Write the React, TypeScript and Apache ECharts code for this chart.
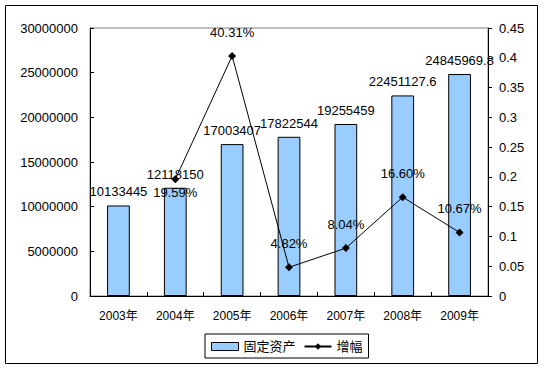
import React, { useEffect, useRef } from "react";
import * as echarts from "echarts";

const categories = ["2003年", "2004年", "2005年", "2006年", "2007年", "2008年", "2009年"];
const assetValues = [10133445, 12118150, 17003407, 17822544, 19255459, 22451127.6, 24845969.8];
const growthValues: (number | null)[] = [null, 0.1959, 0.4031, 0.0482, 0.0804, 0.166, 0.1067];
const growthLabels = ["", "19.59%", "40.31%", "4.82%", "8.04%", "16.60%", "10.67%"];
const labelBelow = [false, true, false, false, false, false, false];

const FONT = "'Liberation Sans', Arial, 'Noto Sans CJK SC', sans-serif";

export default function App() {
  const ref = useRef<HTMLDivElement>(null);
  useEffect(() => {
    if (!ref.current) return;
    const chart = echarts.init(ref.current, null, { renderer: "svg" });
    chart.setOption({
      animation: false,
      backgroundColor: "#ffffff",
      textStyle: { fontFamily: FONT, color: "#000" },
      graphic: [
        {
          type: "rect",
          shape: { x: 5.5, y: 5.5, width: 532, height: 358 },
          style: { fill: "none", stroke: "#000", lineWidth: 1 },
          silent: true,
        },
      ],
      grid: {
        left: 90,
        right: 57,
        top: 28,
        bottom: 74,
        show: true,
        borderColor: "#808080",
        borderWidth: 1,
        backgroundColor: "transparent",
      },
      legend: {
        left: 205,
        top: 334,
        itemWidth: 27,
        itemHeight: 8,
        itemGap: 8,
        padding: [6, 6, 5, 6],
        borderColor: "#000",
        borderWidth: 1,
        textStyle: { fontFamily: FONT, fontSize: 13, color: "#000" },
        data: [
          { name: "固定资产", icon: "rect", itemStyle: { borderColor: "#000", borderWidth: 1 } },
          { name: "增幅" },
        ],
      },
      xAxis: {
        type: "category",
        data: categories,
        boundaryGap: true,
        axisLine: { lineStyle: { color: "#000", width: 1 } },
        axisTick: { show: true, inside: true, length: 4, alignWithLabel: false, lineStyle: { color: "#000" } },
        axisLabel: { color: "#000", fontSize: 12, margin: 14, fontFamily: FONT },
        splitLine: { show: false },
      },
      yAxis: [
        {
          type: "value",
          min: 0,
          max: 30000000,
          interval: 5000000,
          axisLine: { show: true, lineStyle: { color: "#000" } },
          axisTick: { show: true, inside: true, length: 4, lineStyle: { color: "#000" } },
          axisLabel: {
            color: "#000",
            fontSize: 13,
            margin: 12,
            fontFamily: FONT,
            formatter: (v: number) => String(v),
          },
          splitLine: { show: false },
        },
        {
          type: "value",
          min: 0,
          max: 0.45,
          interval: 0.05,
          axisLine: { show: true, lineStyle: { color: "#000" } },
          axisTick: { show: true, inside: false, length: 4, lineStyle: { color: "#000" } },
          axisLabel: {
            color: "#000",
            fontSize: 13,
            margin: 11,
            fontFamily: FONT,
            formatter: (v: number) => String(Math.round(v * 100) / 100),
          },
          splitLine: { show: false },
        },
      ],
      series: [
        {
          name: "固定资产",
          type: "bar",
          yAxisIndex: 0,
          barWidth: "40%",
          data: assetValues,
          itemStyle: { color: "#99CCFF", borderColor: "#000", borderWidth: 1 },
          label: {
            show: true,
            position: "top",
            distance: 7,
            color: "#000",
            fontSize: 13,
            fontFamily: FONT,
            formatter: (p: any) => String(p.value),
          },
        },
        {
          name: "增幅",
          type: "line",
          yAxisIndex: 1,
          data: growthValues.map((v, i) => ({
            value: v === null ? "-" : v,
            label: {
              show: v !== null,
              position: labelBelow[i] ? "bottom" : "top",
              distance: labelBelow[i] ? 3 : 13,
              formatter: growthLabels[i],
            },
          })),
          connectNulls: false,
          symbol: "diamond",
          symbolSize: 8,
          showSymbol: true,
          lineStyle: { color: "#000", width: 1 },
          itemStyle: { color: "#000" },
          label: { color: "#000", fontSize: 13, fontFamily: FONT },
          z: 5,
        },
      ],
    });
    return () => chart.dispose();
  }, []);
  return (
    <div
      ref={ref}
      style={{ position: "absolute", left: 0, top: 0, width: 545, height: 370 }}
    />
  );
}
